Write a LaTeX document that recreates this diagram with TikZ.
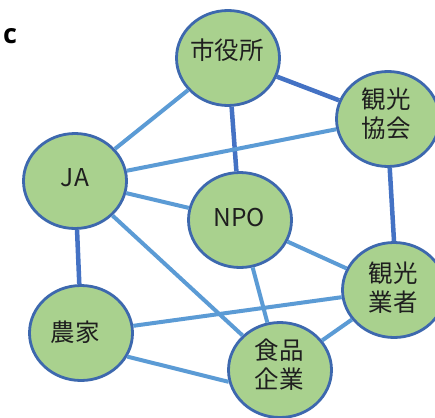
\documentclass[tikz,border=0pt]{standalone}
\usepackage{fontspec}
\setmainfont{Noto Sans CJK JP}
\newfontfamily\labfont{Open Sans}
\usetikzlibrary{shapes.geometric}
\definecolor{nodefill}{HTML}{A9D18E}
\definecolor{nodeline}{HTML}{3D68AE}
\definecolor{darkedge}{HTML}{4472C4}
\definecolor{lightedge}{HTML}{5B9BD5}
\tikzset{
  org/.style={ellipse, draw=nodeline, line width=2.8pt, fill=nodefill,
    minimum width=103pt, minimum height=95pt, inner sep=0pt},
  txt/.style={font=\fontsize{24.5}{29}\selectfont, align=center, inner sep=0pt, text=black!88},
  strong/.style={draw=darkedge, line width=4.5pt},
  weak/.style={draw=lightedge, line width=4pt},
}
\begin{document}
\begin{tikzpicture}[x=1pt,y=-1pt]
\useasboundingbox (0,0) rectangle (435,417);
\fill[white] (0,0) rectangle (435,417);
\node[font=\labfont\bfseries\fontsize{27}{28}\selectfont, inner sep=0pt] (lab) at (10,36) {c};
% nodes
\node[org] (city)  at (228,58)  {};
\node[org] (assoc) at (388,119) {};
\node[org] (ja)    at (75,181)  {};
\node[org] (npo)   at (240,220) {};
\node[org] (biz)   at (394,290) {};
\node[org] (farm)  at (81,333)  {};
\node[org] (food)  at (280,370) {};
% labels
\node[txt] (tcity)  at (227,50)  {市役所};
\node[txt] (tassoc) at (386,114) {観光\\協会};
\node[txt] (tja)    at (75,178)  {JA};
\node[txt] (tnpo)   at (239,218) {NPO};
\node[txt] (tbiz)   at (393,288) {観光\\業者};
\node[txt] (tfarm)  at (75,332)  {農家};
\node[txt] (tfood)  at (279,365) {食品\\企業};
% edges
\draw[strong] (city) -- (assoc);
\draw[strong] (city) -- (npo);
\draw[strong] (assoc.-88) -- (biz.90);
\draw[strong] (ja) -- (farm.92);
\draw[weak] (city) -- (ja);
\draw[weak] (ja) -- (assoc);
\draw[weak] (ja) -- (npo);
\draw[weak] (ja) -- (food);
\draw[weak] (npo) -- (biz);
\draw[weak] (npo) -- (food);
\draw[weak] (farm) -- (biz);
\draw[weak] (farm.-27) -- (food.193);
\draw[weak] (food) -- (biz);
\end{tikzpicture}
\end{document}
